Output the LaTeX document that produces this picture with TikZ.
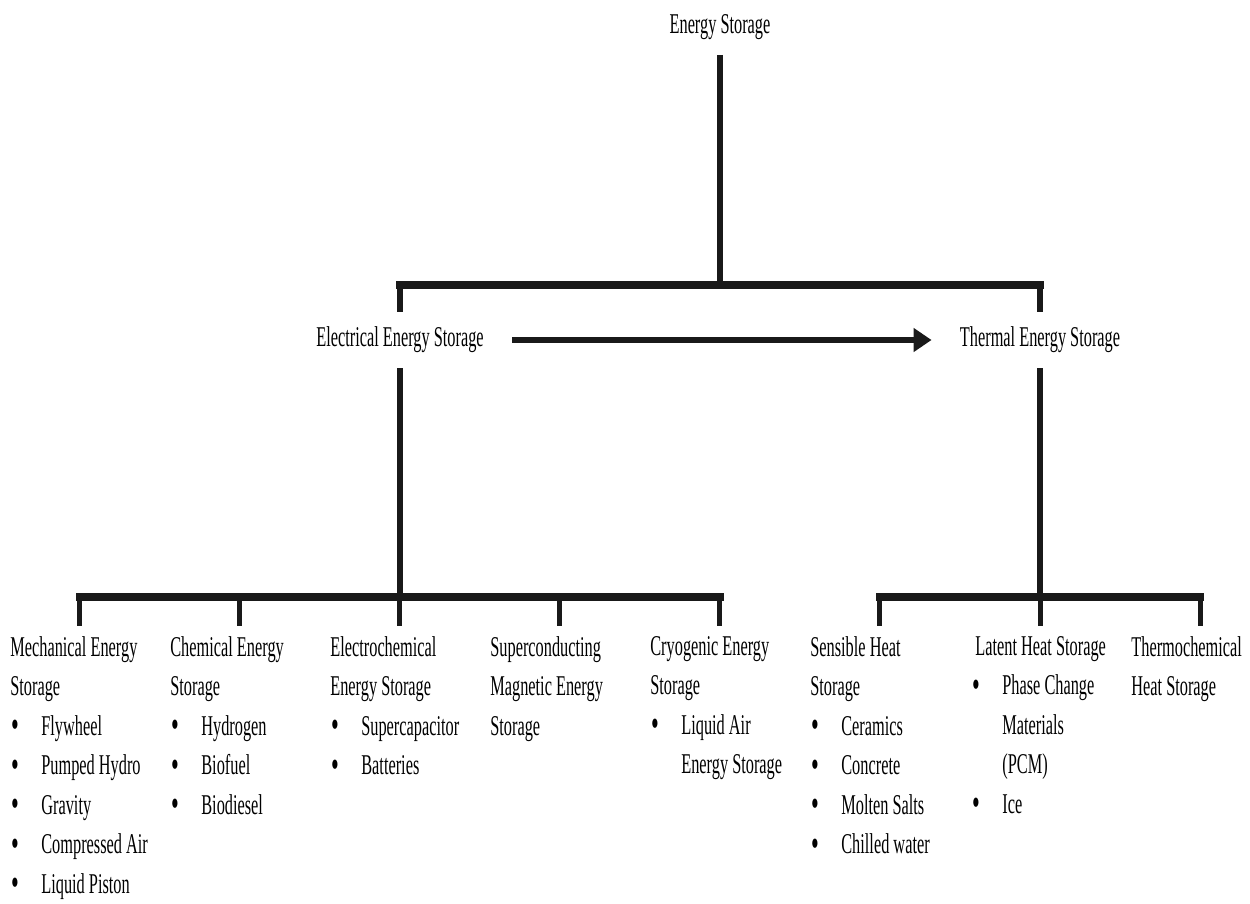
\documentclass[tikz,border=0pt]{standalone}
\usepackage{fontspec}
\setmainfont{Liberation Serif}[FakeStretch=0.57]
\usetikzlibrary{arrows.meta,positioning}
\newcommand\bul{\makebox[0.62cm][l]{\hspace{0.03cm}\raisebox{-0.05cm}{\fontsize{22}{22}\selectfont\textbullet}}}
\newcommand\bind{\hspace*{0.62cm}}

\begin{document}
\begin{tikzpicture}[
    x=0.02cm,y=-0.02cm,
    font=\fontsize{16.3}{22.5}\selectfont,
    head/.style={inner xsep=0.56cm,inner ysep=0.3cm},
    cat/.style={anchor=north west,align=left,inner xsep=0pt,inner ysep=0.2cm},
    link/.style={line width=0.11cm,draw=black!90},
    bar/.style={line width=0.16cm,draw=black!90,line cap=rect},
    arrow/.style={-{Triangle[length=0.36cm,width=0.46cm]},line width=0.13cm,draw=black!90}
  ]
    \useasboundingbox (0,0) rectangle (1250,903);

    \node[head] (es) at (720,27) {Energy Storage};
    \node[head] (ees) at (400,340) {Electrical Energy Storage};
    \node[head] (tes) at (1040,340) {Thermal Energy Storage};
    \coordinate (top) at (720,285);
    \coordinate (bot) at (720,597);

    \node[cat] (mech) at (10,626) {Mechanical Energy\\Storage\\\bul Flywheel\\\bul Pumped Hydro\\\bul Gravity\\\bul Compressed Air\\\bul Liquid Piston};
    \node[cat] (chem) at (170,626) {Chemical Energy\\Storage\\\bul Hydrogen\\\bul Biofuel\\\bul Biodiesel};
    \node[cat] (elchem) at (330,626) {Electrochemical\\Energy Storage\\\bul Supercapacitor\\\bul Batteries};
    \node[cat] (smes) at (490,626) {Superconducting\\Magnetic Energy\\Storage};
    \node[cat] (cryo) at (650,626) {Cryogenic Energy\\Storage\\\bul Liquid Air\\\bind Energy Storage};

    \node[cat] (sens) at (810,626) {Sensible Heat\\Storage\\\bul Ceramics\\\bul Concrete\\\bul Molten Salts\\\bul Chilled water};
    \node[cat] (latent) at (971,626) {\hspace*{0.08cm}Latent Heat Storage\\\bul Phase Change\\\bind Materials\\\bind (PCM)\\\bul Ice};
    \node[cat] (thermo) at (1131,626) {Thermochemical\\Heat Storage};

    \draw[link] (es) -- (es |- top);
    \draw[bar] (ees |- top) -- (tes |- top);
    \draw[link] (ees |- top) -- (ees);
    \draw[link] (tes |- top) -- (tes);
    \draw[link] (ees) -- (ees |- bot);
    \draw[link] (tes) -- (tes |- bot);
    \draw[arrow] (ees) -- (tes);

    \draw[bar] ([xshift=1.4cm]mech.north west |- bot) -- ([xshift=1.4cm]cryo.north west |- bot);
    \draw[bar] ([xshift=1.4cm]sens.north west |- bot) -- ([xshift=1.38cm]thermo.north west |- bot);
    \foreach \n in {mech,chem,elchem,smes,cryo,sens,latent,thermo}
      \draw[link] ([xshift=1.39cm]\n.north west |- bot) -- ([xshift=1.39cm]\n.north west);
  \end{tikzpicture}
\end{document}
